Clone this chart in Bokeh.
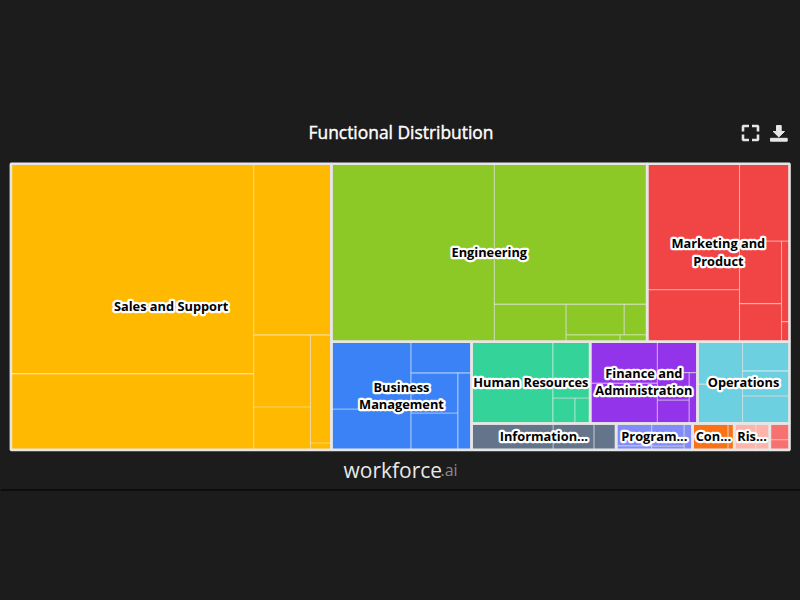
from bokeh.core.properties import value
from bokeh.embed import file_html
from bokeh.io import curdoc
from bokeh.models import CustomJS, GlobalInlineStyleSheet, Range1d
from bokeh.plotting import figure
from bokeh.resources import INLINE

# headcount per function, one list per group
sales = [2552, 923, 666, 205, 121, 113, 7]
engineering = [1451, 1075, 134, 89, 35, 18, 9]
marketing = [582, 240, 194, 131, 80, 32, 8]
business = [269, 162, 95, 94, 86, 52]
hr = [333, 105, 28, 19]
finance = [140, 135, 62, 44, 37, 21]
operations = [96, 88, 69, 59, 64]
information = [108, 54, 29]
program = [40, 7, 37, 6, 11]
compliance = [47, 5, 3]
risk = [29, 18]
other = [16, 10]

groups = [sales, engineering, marketing, business, hr, finance, operations,
          information, program, compliance, risk, other]
labels = ["Sales and Support", "Engineering", "Marketing and\nProduct",
          "Business\nManagement", "Human Resources", "Finance and\nAdministration",
          "Operations", "Information...", "Program...", "Con...", "Ris...", ""]
colors = ["#ffb900", "#8cc926", "#f14444", "#3b82f6", "#34d399", "#9333ea",
          "#6dd0e0", "#64748b", "#818cf8", "#f97316", "#feb4aa", "#f87171"]

# how each rectangle is cut: "h" = side by side, "v" = stacked
top_plan = ("h", [0, ("v", [("h", [1, 2]),
                            ("h", [3, ("v", [("h", [4, 5, 6]),
                                             ("h", [7, 8, 9, 10, 11])])])])])
plans = [
    ("h", [("v", [0, 1]), ("v", [2, ("h", [("v", [3, 4]), ("v", [5, 6])])])]),
    ("h", [0, ("v", [1, ("h", [2, ("v", [("h", [3, 4]), ("h", [5, 6])])])])]),
    ("h", [("v", [0, 1]), ("v", [2, ("h", [("v", [3, 4]), ("v", [5, 6])])])]),
    ("h", [("v", [0, 1]), ("v", [2, ("h", [("v", [3, 4]), 5])])]),
    ("h", [0, ("v", [1, ("h", [2, 3])])]),
    ("h", [("v", [0, 1]), ("v", [2, ("h", [("v", [3, 4]), 5])])]),
    ("h", [("v", [0, 1]), ("v", [2, 3, 4])]),
    ("h", [0, 1, 2]),
    ("h", [("v", [0, 1]), ("v", [2, 3]), 4]),
    ("h", [0, ("v", [1, 2])]),
    ("h", [0, 1]),
    ("v", [0, 1]),
]


def total(node, values):
    if isinstance(node, int):
        return values[node]
    return sum(total(k, values) for k in node[1])


def cut(node, values, box, out):
    if isinstance(node, int):
        out[node] = box
        return
    x0, y0, x1, y1 = box
    whole = total(node, values)
    pos = x0 if node[0] == "h" else y0
    for k in node[1]:
        size = total(k, values) / whole * ((x1 - x0) if node[0] == "h" else (y1 - y0))
        if node[0] == "h":
            cut(k, values, (pos, y0, pos + size, y1), out)
        else:
            cut(k, values, (x0, pos, x1, pos + size), out)
        pos += size


group_sums = [sum(g) for g in groups]
group_boxes = {}
cut(top_plan, group_sums, (10.4, 163.2, 789.0, 449.4), group_boxes)

p = figure(width=800, height=600, output_backend="svg", toolbar_location=None,
           x_range=Range1d(0, 800), y_range=Range1d(600, 0), min_border=0,
           background_fill_color="#1c1c1c", border_fill_color="#1c1c1c",
           stylesheets=[GlobalInlineStyleSheet(css="html,body{margin:0;background:#1c1c1c;overflow:hidden}")])
p.axis.visible = False
p.grid.visible = False
p.outline_line_color = None

# leaf cells
for i, values in enumerate(groups):
    boxes = {}
    cut(plans[i], values, group_boxes[i], boxes)
    cells = [boxes[k] for k in range(len(values))]
    p.quad(left=[c[0] for c in cells], top=[c[1] for c in cells],
           right=[c[2] for c in cells], bottom=[c[3] for c in cells],
           fill_color=colors[i], line_color="white", line_alpha=0.45, line_width=1.1)

# group outlines
order = range(len(groups))
p.quad(left=[group_boxes[i][0] for i in order], top=[group_boxes[i][1] for i in order],
       right=[group_boxes[i][2] for i in order], bottom=[group_boxes[i][3] for i in order],
       fill_color=None, line_color="#e6e6e6", line_width=2.6)

# group names
p.text(x=[(group_boxes[i][0] + group_boxes[i][2]) / 2 for i in order],
       y=[(group_boxes[i][1] + group_boxes[i][3]) / 2 - 0.7 for i in order],
       text=labels, text_align="center", text_baseline="middle",
       text_font=value("Open Sans"), text_font_size="12.8px", text_font_style="bold",
       text_color="#000000", text_line_height=0.95)

p.text(x=[400.5], y=[131.5], text=["Functional Distribution"], text_align="center",
       text_baseline="middle", text_font=value("Open Sans"), text_font_size="17.4px",
       text_color="#ffffff")

# logo under the chart
p.text(x=[343], y=[469], text=["workforce"], text_baseline="alphabetic",
       text_font=value("Open Sans"), text_font_size="21px", text_color="#e8e8e8")
p.text(x=[440], y=[469], text=[".ai"], text_baseline="alphabetic",
       text_font=value("Open Sans"), text_font_size="16px", text_color="#8a8a8a")
p.line([0, 800], [489.5, 489.5], line_color="#000000", line_width=1)

# fullscreen and download icons
p.multi_line([[742.5, 742.5, 748.5], [751.5, 757.5, 757.5], [742.5, 742.5, 748.5], [751.5, 757.5, 757.5]],
             [[131, 125.5, 125.5], [125.5, 125.5, 131], [134, 139.5, 139.5], [139.5, 139.5, 134]],
             line_color="#e6e6e6", line_width=2.6)
p.patch([776, 780.7, 780.7, 784, 778.3, 772.7, 776], [125, 125, 131, 131, 136.5, 131, 131],
        color="#e6e6e6")
p.quad(left=[770], right=[786.7], top=[137.8], bottom=[140.7], color="#e6e6e6")

# white halo round the group names, the svg text has no stroke width of its own
halo = CustomJS(code="""
function walk(root) {
  for (const t of root.querySelectorAll('text')) {
    if (t.textContent.startsWith('Functional')) {
      t.setAttribute('stroke', 'white');
      t.setAttribute('stroke-width', '0.4');
    } else if ((t.getAttribute('font-weight') === 'bold') || (t.style.font || '').includes('bold') ||
        (t.getAttribute('font-family') || '').includes('bold')) {
      t.setAttribute('stroke', 'white');
      t.setAttribute('stroke-width', '4.5');
      t.setAttribute('stroke-linejoin', 'round');
      t.setAttribute('paint-order', 'stroke');
    }
  }
  for (const e of root.querySelectorAll('*')) {
    if (e.shadowRoot) walk(e.shadowRoot);
  }
}
for (const d of [0, 100, 400]) setTimeout(() => walk(document), d);
""")
curdoc().add_root(p)
curdoc().js_on_event("document_ready", halo)

open("out.html", "w").write(file_html(p, INLINE))
